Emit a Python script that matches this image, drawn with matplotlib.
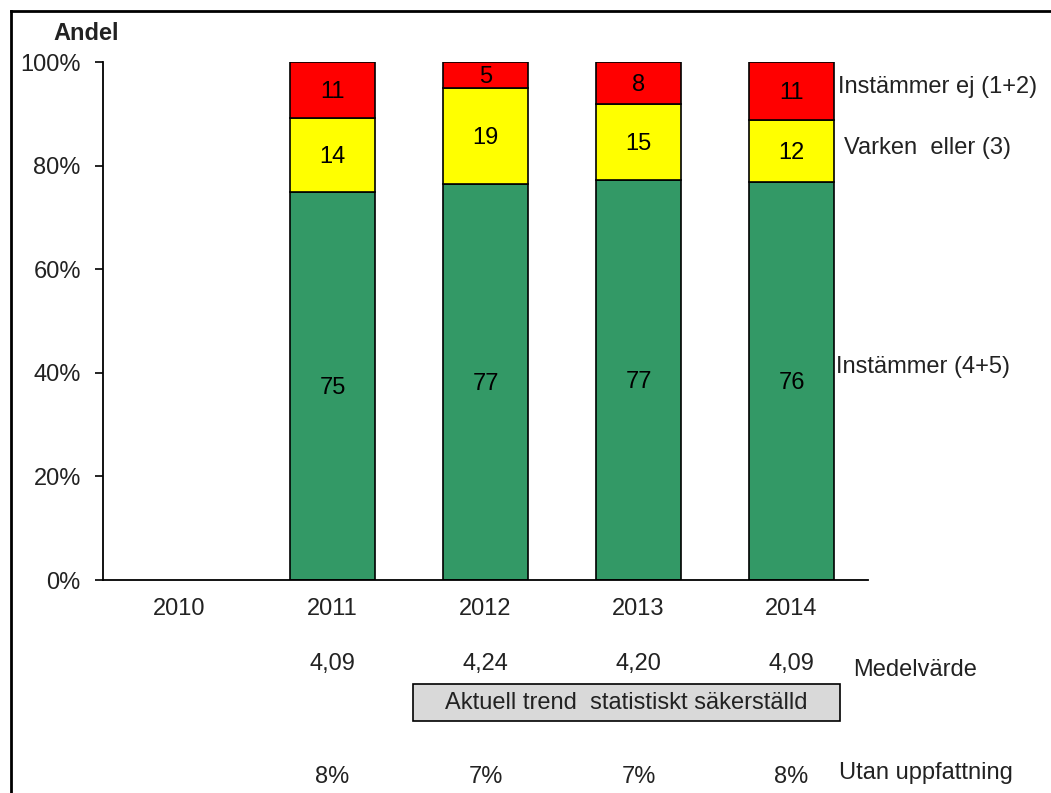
import matplotlib
matplotlib.use('Agg')
import matplotlib.pyplot as plt
from matplotlib.lines import Line2D
from matplotlib.patches import Rectangle

plt.rcParams['font.family'] = ['Liberation Sans', 'DejaVu Sans']

# data
years = ['2010', '2011', '2012', '2013', '2014']
instammer = [0, 74.9, 76.4, 77.2, 76.8]
varken = [0, 14.3, 18.5, 14.7, 12.0]
instammer_ej = [0, 10.8, 5.1, 8.1, 11.2]
lbl_instammer = ['', '75', '77', '77', '76']
lbl_varken = ['', '14', '19', '15', '12']
lbl_ej = ['', '11', '5', '8', '11']
medelvarde = ['', '4,09', '4,24', '4,20', '4,09']
utan_uppfattning = ['', '8%', '7%', '7%', '8%']
yticks = [0, 20, 40, 60, 80, 100]

green = '#339966'
yellow = '#FFFF00'
red = '#FF0000'
txt = '#222222'
fs = 17

fig = plt.figure(figsize=(10.51, 7.93), dpi=100)
ax = fig.add_axes([0.098, 0.2686, 0.728, 0.6532])

x = list(range(len(years)))
w = 0.555
b2 = [a + b for a, b in zip(instammer, varken)]
ax.bar(x[1:], instammer[1:], w, color=green, edgecolor='black', linewidth=1.2)
ax.bar(x[1:], varken[1:], w, bottom=instammer[1:], color=yellow,
       edgecolor='black', linewidth=1.2)
ax.bar(x[1:], instammer_ej[1:], w, bottom=b2[1:], color=red,
       edgecolor='black', linewidth=1.2)

# segment labels (slightly below centre, like the original)
for i in x[1:]:
    ax.text(i, instammer[i] / 2 - 0.4, lbl_instammer[i], ha='center', va='center', fontsize=fs)
    ax.text(i, instammer[i] + varken[i] / 2 - 0.4, lbl_varken[i], ha='center', va='center', fontsize=fs)
    ax.text(i, b2[i] + instammer_ej[i] / 2 - 0.4, lbl_ej[i], ha='center', va='center', fontsize=fs)

ax.set_xlim(-0.5, 4.5)
ax.set_ylim(0, 100)
ax.set_xticks(x)
ax.set_xticklabels(years, fontsize=fs, color=txt)
ax.set_yticks(yticks)
ax.set_yticklabels([f'{t}%' for t in yticks], fontsize=fs, color=txt)
ax.tick_params(axis='x', length=0, pad=13)
ax.tick_params(axis='y', length=6, width=1.2, direction='out', pad=10)
for s in ['top', 'right']:
    ax.spines[s].set_visible(False)
for s in ['left', 'bottom']:
    ax.spines[s].set_linewidth(1.3)

ax.text(-0.022, 1.056, 'Andel', transform=ax.transAxes, fontsize=fs,
        fontweight='bold', ha='center', va='center', color=txt)

# legend-like labels to the right
ax.text(4.30, 95.2, 'Instämmer ej (1+2)', ha='left', va='center', fontsize=fs, color=txt)
ax.text(4.34, 83.4, 'Varken  eller (3)', ha='left', va='center', fontsize=fs, color=txt)
ax.text(4.29, 41.1, 'Instämmer (4+5)', ha='left', va='center', fontsize=fs, color=txt)

# rows under the axis
tr = ax.get_xaxis_transform()
for i in x:
    ax.text(i, -0.162, medelvarde[i], transform=tr, ha='center', va='center',
            fontsize=fs, color=txt, clip_on=False)
    ax.text(i, -0.380, utan_uppfattning[i], transform=tr, ha='center', va='center',
            fontsize=fs, color=txt, clip_on=False)
ax.text(4.40, -0.174, 'Medelvärde', transform=tr, ha='left', va='center',
        fontsize=fs, color=txt, clip_on=False)
ax.text(4.31, -0.372, 'Utan uppfattning', transform=tr, ha='left', va='center',
        fontsize=fs, color=txt, clip_on=False)

box = Rectangle((1.526, -0.272), 4.317 - 1.526, 0.0714, transform=tr,
                facecolor='#D9D9D9', edgecolor='black', linewidth=1.2, clip_on=False)
ax.add_patch(box)
ax.text((1.526 + 4.317) / 2, -0.238, 'Aktuell trend  statistiskt säkerställd',
        transform=tr, ha='center', va='center', fontsize=fs, color=txt, clip_on=False)

# outer chart frame (only left and top visible)
fig.add_artist(Line2D([0.0105, 0.0105], [0.0, 0.986], transform=fig.transFigure,
                      color='black', linewidth=2))
fig.add_artist(Line2D([0.0105, 1.0], [0.986, 0.986], transform=fig.transFigure,
                      color='black', linewidth=2))

fig.savefig('out.png', dpi=100)
